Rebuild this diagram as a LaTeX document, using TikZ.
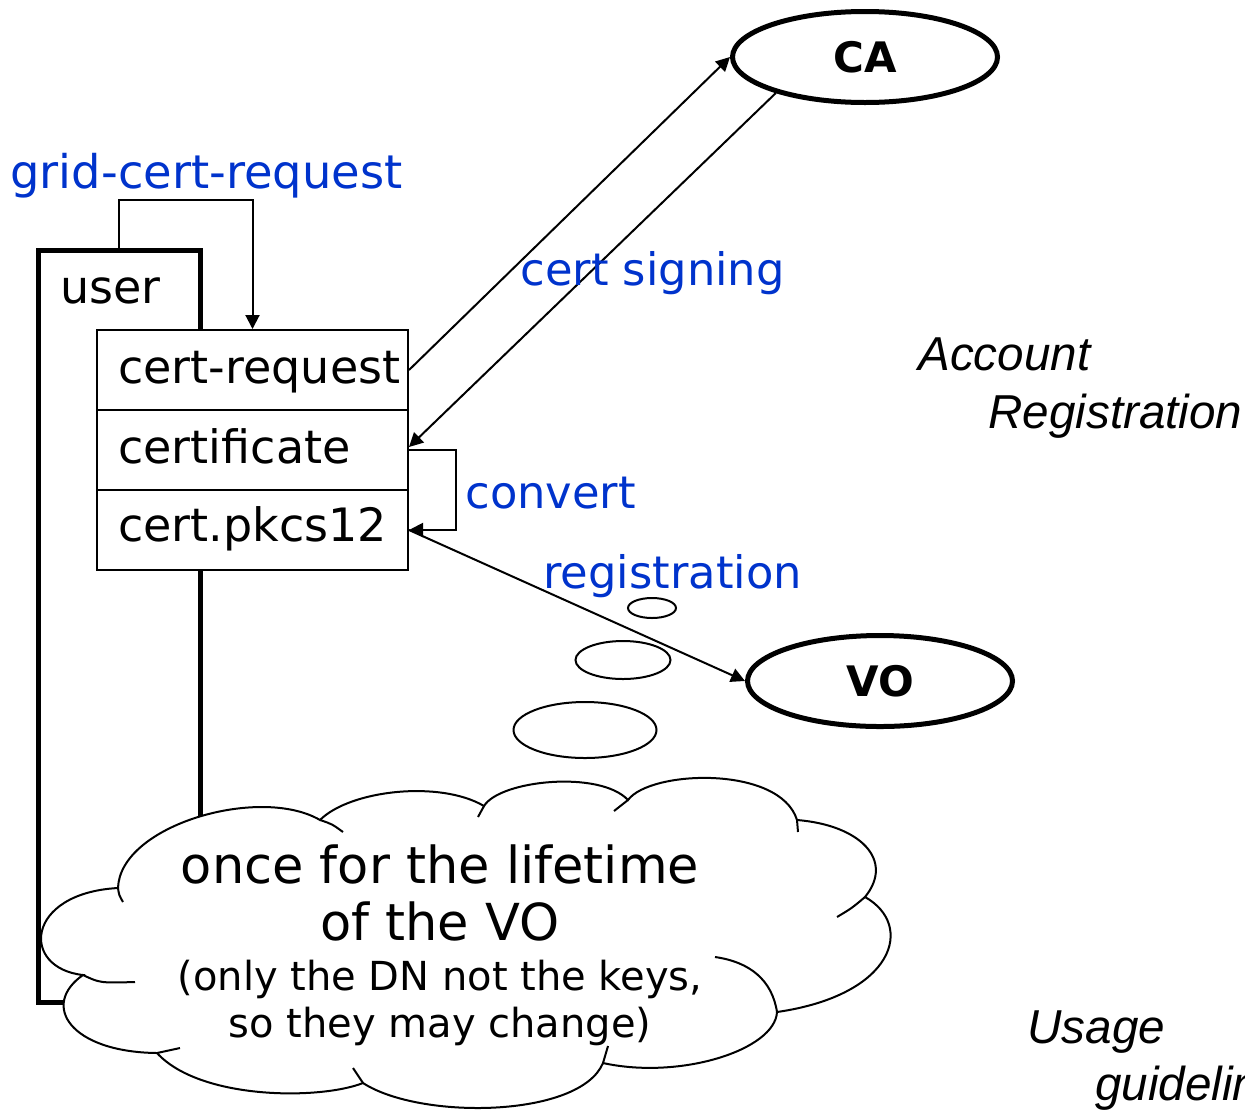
\documentclass[tikz,border=0pt]{standalone}
\usepackage{fontspec}
\setmainfont{DejaVu Sans}
\newfontfamily\arialfont{Liberation Sans}
\usetikzlibrary{arrows.meta,shapes.geometric}
\definecolor{myblue}{RGB}{0,51,204}
\tikzset{
  lbl/.style={font=\fontsize{23}{27}\selectfont, anchor=base west, inner sep=0pt},
  bluelbl/.style={font=\fontsize{22.4}{27}\selectfont, anchor=base west, inner sep=0pt, text=myblue},
  itlbl/.style={font=\arialfont\itshape\fontsize{23.8}{28}\selectfont, anchor=base west, inner sep=0pt},
  rowbox/.style={draw, line width=1pt, fill=white, minimum width=155.5pt, minimum height=40pt, inner sep=0pt},
  thinln/.style={line width=1pt},
  arr/.style={thinln, -{Triangle[length=7pt,width=7pt]}},
  party/.style={ellipse, draw, line width=2.5pt, fill=white, minimum width=132.5pt, minimum height=45.5pt, inner sep=0pt, font=\bfseries\fontsize{21}{25}\selectfont},
  bubble/.style={ellipse, draw, line width=1pt, fill=white, inner sep=0pt},
  cloudtxt/.style={anchor=base, inner sep=0pt, font=\fontsize{25.5}{30}\selectfont},
  cloudsmall/.style={anchor=base, inner sep=0pt, font=\fontsize{20}{24}\selectfont},
}
\begin{document}
\begin{tikzpicture}[x=0.5pt,y=-0.5pt]
\useasboundingbox (0,0) rectangle (1245,1114);
% user box
\node[draw, line width=2.5pt, minimum width=81pt, minimum height=376pt, inner sep=0pt] (userbox) at (119,626) {};
\node[lbl] (usertxt) at (60,303) {user};
% rows
\node[rowbox] (req) at (252.5,370) {};
\node[rowbox] (cert) at (252.5,450) {};
\node[rowbox] (p12) at (252.5,530) {};
\node[lbl] (reqtxt) at (118,383) {cert-request};
\node[lbl] (certtxt) at (118,463) {certificate};
\node[lbl] (p12txt) at (118,541) {cert.pkcs12};
% grid-cert-request
\node[bluelbl, font=\fontsize{23.2}{27}\selectfont] (gcr) at (10,188) {grid-cert-request};
\draw[arr] (userbox.north) -- ++(0,-48) -| (req.north);
% CA and VO
\node[party] (CA) at (865,57) {CA};
\node[party] (VO) at (880,681) {VO};
\draw[arr] (req.east) -- (CA.west);
\draw[arr] (CA.202) -- ([yshift=1.5pt]cert.east);
\node[bluelbl] (signing) at (520,285) {cert signing};
% convert
\draw[arr] (cert.east) -- ++(47,0) |- (p12.east);
\node[bluelbl] (convert) at (465,508) {convert};
% registration
\draw[arr] (p12.east) -- (VO.west);
\node[bluelbl] (registration) at (543,588) {registration};
% side texts
\node[itlbl] (acc) at (918,370) {Account};
\node[itlbl] (reg) at (988,428) {Registration};
\node[itlbl] (usage) at (1027,1043) {Usage};
\node[itlbl] (guide) at (1095,1100) {guidelines};
% thought bubbles
\node[bubble, minimum width=24pt, minimum height=10pt] (b1) at (652,608) {};
\node[bubble, minimum width=47.5pt, minimum height=19pt] (b2) at (623,660) {};
\node[bubble, minimum width=71.5pt, minimum height=28pt] (b3) at (585,730) {};
% cloud
\draw[thinln, fill=white] (83,975) .. controls (20,968) and (25,893) .. (118,888)
 .. controls (120,825) and (260,785) .. (320,820)
 .. controls (350,790) and (440,780) .. (484,806)
 .. controls (500,780) and (600,770) .. (628,800)
 .. controls (650,770) and (780,765) .. (797,820)
 .. controls (860,825) and (895,860) .. (865,897)
 .. controls (915,925) and (895,995) .. (777,1012)
 .. controls (775,1050) and (680,1080) .. (603,1063)
 .. controls (580,1118) and (420,1120) .. (363,1083)
 .. controls (320,1100) and (200,1100) .. (157,1053)
 .. controls (70,1052) and (40,1005) .. cycle;
\draw[thinln] (83,975) .. controls (100,983) .. (135,982);
\draw[thinln] (118,888) .. controls (119,895) .. (123,902);
\draw[thinln] (320,820) .. controls (332,824) .. (343,832);
\draw[thinln] (484,806) -- (478,817);
\draw[thinln] (628,800) -- (614,811);
\draw[thinln] (797,820) -- (798,832);
\draw[thinln] (865,897) .. controls (852,908) .. (837,917);
\draw[thinln] (777,1012) .. controls (772,980) and (750,962) .. (715,957);
\draw[thinln] (603,1063) -- (608,1046);
\draw[thinln] (363,1083) -- (353,1068);
\draw[thinln] (157,1053) .. controls (168,1050) .. (180,1048);
% cloud text
\node[cloudtxt] (c1) at (440,883) {once for the lifetime};
\node[cloudtxt] (c2) at (440,940) {of the VO};
\node[cloudsmall] (c3) at (440,990) {(only the DN not the keys,};
\node[cloudsmall] (c4) at (440,1037) {so they may change)};
\end{tikzpicture}
\end{document}
